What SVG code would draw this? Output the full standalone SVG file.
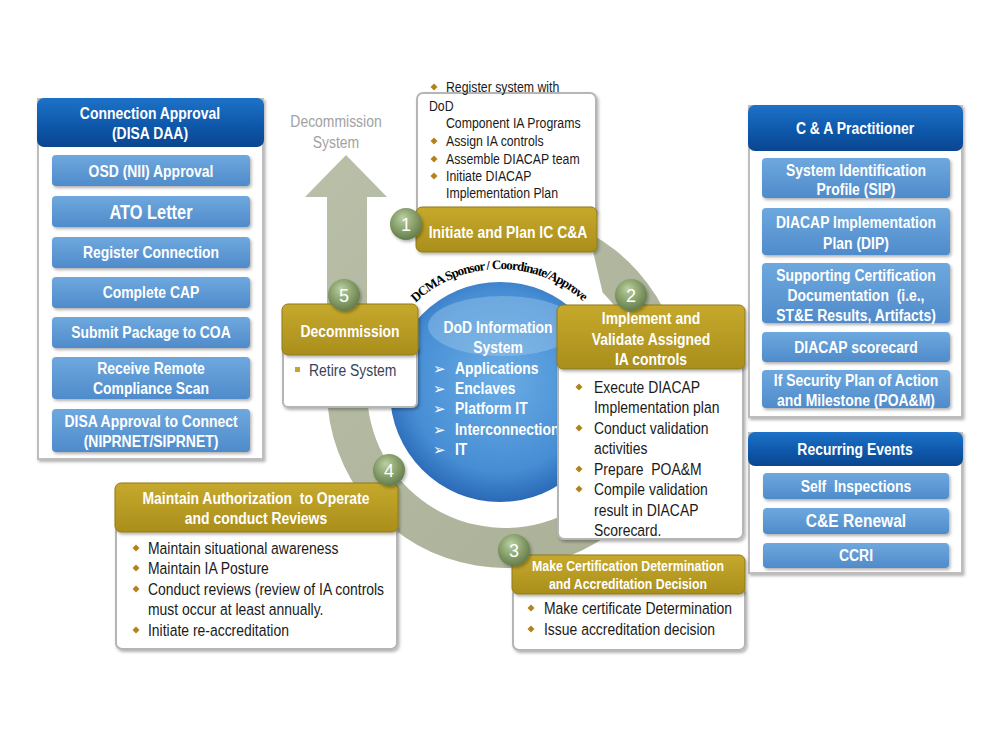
<svg xmlns="http://www.w3.org/2000/svg" xmlns:xlink="http://www.w3.org/1999/xlink" width="1000" height="750" viewBox="0 0 1000 750">
<defs>
<style>
.t{font-family:"Liberation Sans Narrow","Liberation Sans",Arial,sans-serif}
.hb{font-weight:bold;fill:#fff;text-anchor:middle}
.bt{fill:#1a1a1a}
.panel{fill:#fff;stroke:#bdbdbd;stroke-width:2}
.item{fill:url(#gItem)}
.hdrB{fill:url(#gHdrB)}
.gold{fill:url(#gGold);stroke:#8f7a18;stroke-width:1}
.wbox{fill:#fff;stroke:#b5b5b5;stroke-width:2}
.num{fill:url(#gNum)}
.numt{font-family:"Liberation Sans",Arial,sans-serif;font-size:18px;fill:#fff;text-anchor:middle}
</style>
<linearGradient id="gItem" x1="0" y1="0" x2="0" y2="1">
<stop offset="0" stop-color="#6ea8de"/><stop offset="1" stop-color="#4f8bcb"/>
</linearGradient>
<linearGradient id="gHdrB" x1="0" y1="0" x2="0" y2="1">
<stop offset="0" stop-color="#1d72c8"/><stop offset="0.6" stop-color="#0d56a8"/><stop offset="1" stop-color="#0a4690"/>
</linearGradient>
<linearGradient id="gGold" x1="0" y1="0" x2="0" y2="1">
<stop offset="0" stop-color="#c6a92c"/><stop offset="1" stop-color="#a98e1c"/>
</linearGradient>
<radialGradient id="gNum" cx="0.45" cy="0.4" r="0.6" fx="0.4" fy="0.3">
<stop offset="0" stop-color="#bccfa2"/><stop offset="0.6" stop-color="#87a06b"/><stop offset="1" stop-color="#637c4b"/>
</radialGradient>
<radialGradient id="gBlue" cx="0.5" cy="0.45" r="0.55">
<stop offset="0" stop-color="#6aace4"/><stop offset="0.75" stop-color="#468dd4"/><stop offset="1" stop-color="#2a69b6"/>
</radialGradient>
<linearGradient id="gRing" x1="0" y1="0" x2="1" y2="1">
<stop offset="0" stop-color="#b9bfa8"/><stop offset="1" stop-color="#a9b096"/>
</linearGradient>
<filter id="sh" x="-10%" y="-10%" width="125%" height="130%">
<feDropShadow dx="1.5" dy="2" stdDeviation="1.5" flood-color="#000" flood-opacity="0.3"/>
</filter>
<path id="dia" d="M0,-3.5 L3.5,0 L0,3.5 L-3.5,0Z" fill="#b5811f"/>
<path id="dcmaArc" d="M393.5,330.5 A123,123 0 0 1 606.5,330.5"/>
</defs>
<rect width="1000" height="750" fill="#fff"/>

<g id="connectors">
<path d="M588.6,232.8 A178,178 0 1 1 327,390 L327,197 L305,197 L346,155 L387,197 L367,197 L367,390 A138,138 0 1 0 602.6,292.4 Z" fill="url(#gRing)"/>
<g class="t" font-size="17" fill="#a2a2a2" text-anchor="middle">
<text transform="translate(336 127) scale(.82 1)">Decommission</text>
<text transform="translate(336 148) scale(.82 1)">System</text>
</g>
</g>

<g id="core">
<circle cx="500" cy="392" r="110" fill="url(#gBlue)"/>
<ellipse cx="503" cy="326" rx="75" ry="30" fill="#b3d6f2" opacity="0.35"/>
<text font-family="'Liberation Serif',serif" font-weight="bold" font-size="13" letter-spacing="-0.9" fill="#000"><textPath href="#dcmaArc" startOffset="49.5%" text-anchor="middle">DCMA Sponsor / Coordinate/Approve</textPath></text>
<g class="t" font-weight="bold" font-size="17" fill="#fff">
<text text-anchor="middle" transform="translate(498 333) scale(.82 1)">DoD Information</text>
<text text-anchor="middle" transform="translate(498 353) scale(.82 1)">System</text>
<text transform="translate(455 374) scale(.82 1)">Applications</text>
<text transform="translate(455 394) scale(.82 1)">Enclaves</text>
<text transform="translate(455 414) scale(.82 1)">Platform IT</text>
<text transform="translate(455 435) scale(.82 1)">Interconnection</text>
<text transform="translate(455 455) scale(.82 1)">IT</text>
</g>
<g font-family="'DejaVu Sans',sans-serif" font-size="15" fill="#fff">
<text x="433" y="374">➢</text><text x="433" y="394">➢</text><text x="433" y="414">➢</text><text x="433" y="435">➢</text><text x="433" y="455">➢</text>
</g>
</g>

<g id="connection-approval">
<rect class="panel" x="38" y="99" width="225" height="360" filter="url(#sh)"/>
<rect class="hdrB" x="37" y="98" width="227" height="49" rx="7"/>
<g class="t hb" font-size="17">
<text transform="translate(150 119) scale(.82 1)">Connection Approval</text>
<text transform="translate(150 139) scale(.82 1)">(DISA DAA)</text>
</g>
<g filter="url(#sh)">
<rect class="item" x="52" y="155" width="198" height="31" rx="4"/>
<rect class="item" x="52" y="196" width="198" height="31" rx="4"/>
<rect class="item" x="52" y="237" width="198" height="31" rx="4"/>
<rect class="item" x="52" y="277" width="198" height="31" rx="4"/>
<rect class="item" x="52" y="317" width="198" height="31" rx="4"/>
<rect class="item" x="52" y="357" width="198" height="42" rx="4"/>
<rect class="item" x="52" y="409" width="198" height="43" rx="4"/>
</g>
<g class="t hb" font-size="17">
<text transform="translate(151 177) scale(.82 1)">OSD (NII) Approval</text>
<text transform="translate(151 219) scale(.82 1)" font-size="20">ATO Letter</text>
<text transform="translate(151 258) scale(.82 1)">Register Connection</text>
<text transform="translate(151 298) scale(.82 1)">Complete CAP</text>
<text transform="translate(151 338) scale(.82 1)">Submit Package to COA</text>
<text transform="translate(151 374) scale(.82 1)">Receive Remote</text>
<text transform="translate(151 394) scale(.82 1)">Compliance Scan</text>
<text transform="translate(151 427) scale(.82 1)">DISA Approval to Connect</text>
<text transform="translate(151 447) scale(.82 1)">(NIPRNET/SIPRNET)</text>
</g>
</g>

<g id="practitioner">
<rect class="panel" x="749" y="106" width="213" height="311" filter="url(#sh)"/>
<rect class="hdrB" x="748" y="105" width="215" height="46" rx="7"/>
<text class="t hb" font-size="17" transform="translate(855 134) scale(.82 1)">C &amp; A Practitioner</text>
<g filter="url(#sh)">
<rect class="item" x="762" y="158" width="188" height="40" rx="4"/>
<rect class="item" x="762" y="208" width="188" height="47" rx="4"/>
<rect class="item" x="762" y="263" width="188" height="60" rx="4"/>
<rect class="item" x="762" y="332" width="188" height="30" rx="4"/>
<rect class="item" x="762" y="370" width="188" height="38" rx="4"/>
</g>
<g class="t hb" font-size="17">
<text transform="translate(856 176) scale(.82 1)">System Identification</text>
<text transform="translate(856 195) scale(.82 1)">Profile (SIP)</text>
<text transform="translate(856 228) scale(.82 1)">DIACAP Implementation</text>
<text transform="translate(856 249) scale(.82 1)">Plan (DIP)</text>
<text transform="translate(856 281) scale(.82 1)">Supporting Certification</text>
<text transform="translate(856 301) scale(.82 1)" xml:space="preserve">Documentation  (i.e.,</text>
<text transform="translate(856 321) scale(.82 1)">ST&amp;E Results, Artifacts)</text>
<text transform="translate(856 353) scale(.82 1)">DIACAP scorecard</text>
<text transform="translate(856 386) scale(.82 1)">If Security Plan of Action</text>
<text transform="translate(856 406) scale(.82 1)">and Milestone (POA&amp;M)</text>
</g>
</g>

<g id="recurring">
<rect class="panel" x="749" y="433" width="213" height="140" filter="url(#sh)"/>
<rect class="hdrB" x="748" y="432" width="215" height="34" rx="7"/>
<text class="t hb" font-size="17" transform="translate(855 455) scale(.82 1)">Recurring Events</text>
<g filter="url(#sh)">
<rect class="item" x="763" y="473" width="186" height="26" rx="4"/>
<rect class="item" x="763" y="508" width="186" height="26" rx="4"/>
<rect class="item" x="763" y="543" width="186" height="25" rx="4"/>
</g>
<g class="t hb" font-size="17">
<text transform="translate(856 492) scale(.82 1)" xml:space="preserve">Self  Inspections</text>
<text transform="translate(856 527) scale(.82 1)" font-size="19">C&amp;E Renewal</text>
<text transform="translate(856 561) scale(.82 1)">CCRI</text>
</g>
</g>

<g id="step1">
<rect class="wbox" x="417" y="93" width="179" height="122" rx="6" filter="url(#sh)"/>
<g class="t bt" font-size="15">
<text transform="translate(446 92) scale(.82 1)">Register system with</text>
<text transform="translate(429 111) scale(.82 1)">DoD</text>
<text transform="translate(446 128) scale(.82 1)">Component IA Programs</text>
<text transform="translate(446 146) scale(.82 1)">Assign IA controls</text>
<text transform="translate(446 164) scale(.82 1)">Assemble DIACAP team</text>
<text transform="translate(446 181) scale(.82 1)">Initiate DIACAP</text>
<text transform="translate(446 198) scale(.82 1)">Implementation Plan</text>
</g>
<use href="#dia" x="434" y="87"/><use href="#dia" x="434" y="141"/><use href="#dia" x="434" y="159"/><use href="#dia" x="434" y="176"/>
<rect class="gold" x="416" y="207" width="181" height="45" rx="6" filter="url(#sh)"/>
<text class="t hb" font-size="17" transform="translate(508 238) scale(.82 1)">Initiate and Plan IC C&amp;A</text>
<circle class="num" cx="406" cy="224" r="16" filter="url(#sh)"/>
<text class="numt" x="406" y="231">1</text>
</g>

<g id="step2">
<rect class="wbox" x="558" y="358" width="185" height="181" rx="6" filter="url(#sh)"/>
<rect class="gold" x="557" y="305" width="188" height="64" rx="6" filter="url(#sh)"/>
<g class="t hb" font-size="17">
<text transform="translate(651 324) scale(.82 1)">Implement and</text>
<text transform="translate(651 345) scale(.82 1)">Validate Assigned</text>
<text transform="translate(651 365) scale(.82 1)">IA controls</text>
</g>
<g class="t bt" font-size="17">
<text transform="translate(594 393) scale(.82 1)">Execute DIACAP</text>
<text transform="translate(594 413) scale(.82 1)">Implementation plan</text>
<text transform="translate(594 434) scale(.82 1)">Conduct validation</text>
<text transform="translate(594 454) scale(.82 1)">activities</text>
<text transform="translate(594 475) scale(.82 1)" xml:space="preserve">Prepare  POA&amp;M</text>
<text transform="translate(594 495) scale(.82 1)">Compile validation</text>
<text transform="translate(594 516) scale(.82 1)">result in DIACAP</text>
<text transform="translate(594 536) scale(.82 1)">Scorecard.</text>
</g>
<use href="#dia" x="579" y="387"/><use href="#dia" x="579" y="428"/><use href="#dia" x="579" y="469"/><use href="#dia" x="579" y="489"/>
<circle class="num" cx="631" cy="295" r="16" filter="url(#sh)"/>
<text class="numt" x="631" y="302">2</text>
</g>

<g id="step3">
<rect class="wbox" x="513" y="588" width="232" height="62" rx="6" filter="url(#sh)"/>
<rect class="gold" x="512" y="555" width="233" height="39" rx="6" filter="url(#sh)"/>
<g class="t hb" font-size="15">
<text transform="translate(628 571) scale(.82 1)">Make Certification Determination</text>
<text transform="translate(628 589) scale(.82 1)">and Accreditation Decision</text>
</g>
<g class="t bt" font-size="17">
<text transform="translate(544 614) scale(.82 1)">Make certificate Determination</text>
<text transform="translate(544 635) scale(.82 1)">Issue accreditation decision</text>
</g>
<use href="#dia" x="531" y="608"/><use href="#dia" x="531" y="629"/>
<circle class="num" cx="514" cy="550" r="16" filter="url(#sh)"/>
<text class="numt" x="514" y="557">3</text>
</g>

<g id="step4">
<rect class="wbox" x="116" y="525" width="281" height="124" rx="6" filter="url(#sh)"/>
<rect class="gold" x="115" y="483" width="283" height="49" rx="6" filter="url(#sh)"/>
<g class="t hb" font-size="17">
<text transform="translate(256 504) scale(.82 1)" xml:space="preserve">Maintain Authorization  to Operate</text>
<text transform="translate(256 524) scale(.82 1)">and conduct Reviews</text>
</g>
<g class="t bt" font-size="17">
<text transform="translate(148 554) scale(.82 1)">Maintain situational awareness</text>
<text transform="translate(148 574) scale(.82 1)">Maintain IA Posture</text>
<text transform="translate(148 595) scale(.82 1)">Conduct reviews (review of IA controls</text>
<text transform="translate(148 615) scale(.82 1)">must occur at least annually.</text>
<text transform="translate(148 636) scale(.82 1)">Initiate re-accreditation</text>
</g>
<use href="#dia" x="136" y="548"/><use href="#dia" x="136" y="568"/><use href="#dia" x="136" y="589"/><use href="#dia" x="136" y="630"/>
<circle class="num" cx="389" cy="470" r="16" filter="url(#sh)"/>
<text class="numt" x="389" y="477">4</text>
</g>

<g id="step5">
<rect class="wbox" x="283" y="345" width="134" height="62" rx="5" filter="url(#sh)"/>
<rect class="gold" x="282" y="304" width="136" height="51" rx="6" filter="url(#sh)"/>
<text class="t hb" font-size="17" transform="translate(350 337) scale(.82 1)">Decommission</text>
<rect x="295" y="367" width="5" height="5" fill="#c9a227"/>
<text class="t" font-size="17" fill="#34445a" transform="translate(309 376) scale(.82 1)">Retire System</text>
<circle class="num" cx="344" cy="295" r="16" filter="url(#sh)"/>
<text class="numt" x="344" y="302">5</text>
</g>
</svg>
